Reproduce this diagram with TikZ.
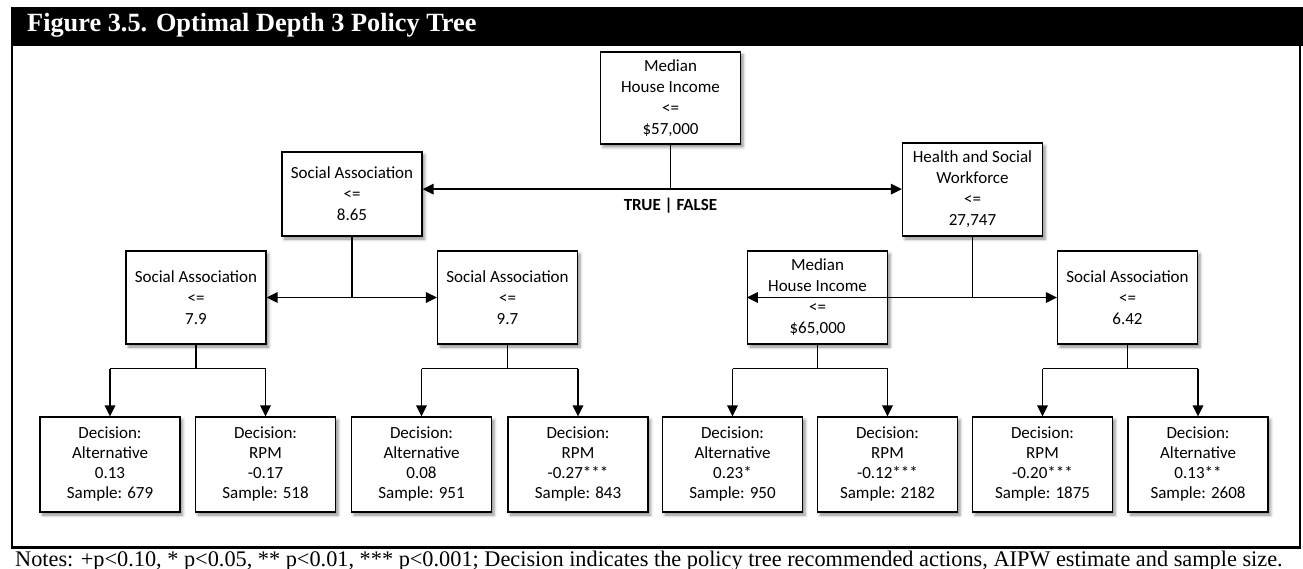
\documentclass[tikz,border=0pt]{standalone}
\usepackage{fontspec}
\setmainfont{Liberation Serif}
\newfontfamily\boxfont{Carlito}
\usetikzlibrary{arrows.meta,shadows.blur}

\tikzset{
  box/.style={draw=black, line width=1.2pt, fill=white, minimum width=140pt,
    inner sep=0pt, align=center, font=\boxfont\fontsize{17}{21}\selectfont,
    blur shadow={shadow xshift=2.5pt, shadow yshift=-3pt,
      shadow blur radius=3pt, shadow opacity=45}},
  leaf/.style={box, minimum height=95pt, font=\boxfont\fontsize{17}{20}\selectfont},
  conn/.style={line width=1.5pt, draw=black},
  arr/.style={conn, -{Triangle[length=11pt,width=10.5pt]}},
  frameline/.style={line width=2.2pt, draw=black},
}

\begin{document}
\begin{tikzpicture}[x=1pt, y=-1pt]
\useasboundingbox (0,0) rectangle (1303,569);

% header bar and title
\fill[black] (11,7) rectangle (1303,46);
\node[anchor=base west, text=white, inner sep=0pt,
  font=\bfseries\fontsize{26.3}{30}\selectfont] (title) at (27,32)
  {Figure 3.5. Optimal Depth 3 Policy Tree};

% outer frame
\draw[frameline] (12,46) -- (12,547.5);
\draw[frameline] (1300,46) -- (1300,547.5);
\draw[frameline] (11,547.5) -- (1301,547.5);

% splits
\node[box, minimum height=92pt] (root) at (670.5,98)
  {Median\\House Income\\<=\\\$57,000};
\node[box, minimum height=84pt] (sa865) at (352,194)
  {Social Association\\<=\\8.65};
\node[box, minimum height=93pt] (hsw) at (972.5,189.5)
  {Health and Social\\Workforce\\<=\\27,747};
\node[box, minimum height=93pt] (sa79) at (196,297.5)
  {Social Association\\<=\\7.9};
\node[box, minimum height=93pt] (sa97) at (507.5,297.5)
  {Social Association\\<=\\9.7};
\node[box, minimum height=93pt] (mhi65) at (817.5,297.5)
  {Median\\House Income\\<=\\\$65,000};
\node[box, minimum height=93pt] (sa642) at (1127.5,297.5)
  {Social Association\\<=\\6.42};

% leaves
\node[leaf] (l1) at (110,464.5) {Decision:\\Alternative\\0.13\\Sample: 679};
\node[leaf] (l2) at (265.5,464.5) {Decision:\\RPM\\-0.17\\Sample: 518};
\node[leaf] (l3) at (421.5,464.5) {Decision:\\Alternative\\0.08\\Sample: 951};
\node[leaf] (l4) at (578,464.5) {Decision:\\RPM\\-0.27***\\Sample: 843};
\node[leaf] (l5) at (732.5,464.5) {Decision:\\Alternative\\0.23*\\Sample: 950};
\node[leaf] (l6) at (887.5,464.5) {Decision:\\RPM\\-0.12***\\Sample: 2182};
\node[leaf] (l7) at (1042.5,464.5) {Decision:\\RPM\\-0.20***\\Sample: 1875};
\node[leaf] (l8) at (1198,464.5) {Decision:\\Alternative\\0.13**\\Sample: 2608};

% root split
\coordinate (j0) at ([yshift=-44.5pt]root.south);
\draw[conn] (root.south) -- (j0);
\draw[arr] (j0) -- (j0 -| sa865.east);
\draw[arr] (j0) -- (j0 -| hsw.west);
\node[font=\boxfont\bfseries\fontsize{17}{20}\selectfont, inner sep=0pt] (tf)
  at ([yshift=-16.5pt]j0) {TRUE | FALSE};

% second level splits
\coordinate (j1) at (sa865.south |- sa79.east);
\draw[conn] (sa865.south) -- (j1);
\draw[arr] (j1) -- (sa79.east);
\draw[arr] (j1) -- (sa97.west);
\coordinate (j2) at (hsw.south |- mhi65.west);
\draw[conn] (hsw.south) -- (j2);
\draw[arr] (j2) -- (mhi65.west);
\draw[arr] (j2) -- (sa642.west);

% third level forks
\foreach \p/\a/\b in {sa79/l1/l2, sa97/l3/l4, mhi65/l5/l6, sa642/l7/l8}{
  \coordinate (f-\p) at ([yshift=-24pt]\p.south);
  \draw[conn] (\p.south) -- (f-\p);
  \draw[conn] (f-\p -| \a.north) -- (f-\p -| \b.north);
  \draw[arr] (f-\p -| \a.north) -- (\a.north);
  \draw[arr] (f-\p -| \b.north) -- (\b.north);
}

% notes
\node[anchor=base west, inner sep=0pt, font=\fontsize{22.3}{26}\selectfont] (notes)
  at (15,566) {Notes: +p<0.10, * p<0.05, ** p<0.01, *** p<0.001; Decision indicates the policy tree recommended actions, AIPW estimate and sample size.};
\end{tikzpicture}
\end{document}
